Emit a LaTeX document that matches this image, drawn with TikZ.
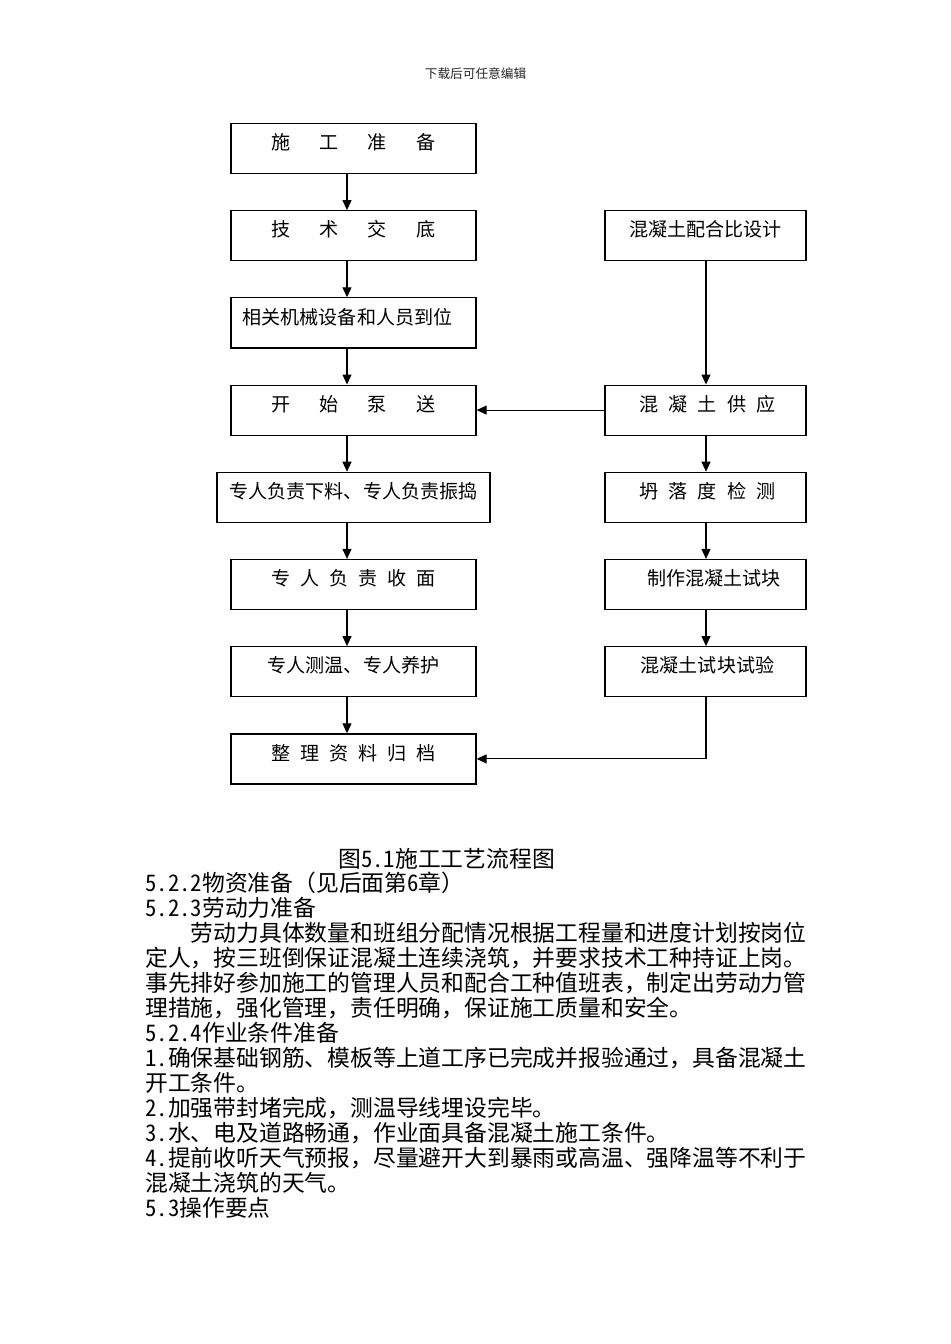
\documentclass[tikz,border=0pt]{standalone}
\usepackage{fontspec}
\usetikzlibrary{arrows.meta}
\newfontfamily\cjk{Noto Sans CJK SC}
\newfontfamily\cjkhw[RawFeature=+hwid]{Noto Sans CJK SC}
\newcommand\hw[1]{{\cjkhw #1}}
\newcommand\wgap{\hspace{21.75pt}}
\newcommand\ngap{\hspace{7.5pt}}
\tikzset{
  box/.style={draw, line width=0.9pt, inner sep=0pt, minimum height=37.5pt,
    text height=9pt, text depth=7.2pt, font=\cjk\fontsize{14.3pt}{16pt}\selectfont},
  lbox/.style={box, minimum width=183.75pt},
  wbox/.style={box, minimum width=204.75pt},
  rbox/.style={box, minimum width=150.75pt},
  arr/.style={line width=0.8pt, -{Triangle[length=7.5pt,width=6.75pt]}},
  body/.style={anchor=base west, inner sep=0pt, font=\cjk\fontsize{17.1pt}{20pt}\selectfont},
  hdr/.style={anchor=base, inner sep=0pt, text=black!85, font=\cjk\fontsize{9.5pt}{11pt}\selectfont}
}
\begin{document}
\begin{tikzpicture}[x=0.75pt,y=-0.75pt]
\useasboundingbox[fill=white] (0,0) rectangle (950,1344);
\node[hdr] (hd) at (475.5,78.8) {下载后可任意编辑};
% left column
\node[lbox] (b1) at (353.5,148.5) {施\wgap 工\wgap 准\wgap 备};
\node[lbox] (b2) at (353.5,235.7) {技\wgap 术\wgap 交\wgap 底};
\node[lbox] (b3) at (353.5,322.9) {相关机械设备和人员到位\hspace*{9pt}};
\node[lbox] (b4) at (353.5,410.1) {开\wgap 始\wgap 泵\wgap 送};
\node[wbox] (b5) at (353.5,497.3) {专人负责下料、专人负责振捣};
\node[lbox] (b6) at (353.5,584.5) {专\ngap 人\ngap 负\ngap 责\ngap 收\ngap 面};
\node[lbox] (b7) at (353.5,671.7) {专人测温、专人养护};
\node[lbox] (b8) at (353.5,758.9) {整\ngap 理\ngap 资\ngap 料\ngap 归\ngap 档};
% right column
\node[rbox] (r1) at (705.5,235.7) {混凝土配合比设计};
\node[rbox] (r4) at (705.5,410.1) {\hspace*{3pt}混\ngap 凝\ngap 土\ngap 供\ngap 应};
\node[rbox] (r5) at (705.5,497.3) {\hspace*{3pt}坍\ngap 落\ngap 度\ngap 检\ngap 测};
\node[rbox] (r6) at (705.5,584.5) {\hspace*{12.75pt}制作混凝土试块};
\node[rbox] (r7) at (705.5,671.7) {\hspace*{3pt}混凝土试块试验};
% connectors
\coordinate (lx) at (347,0);
\coordinate (rx) at (706,0);
\draw[arr] (b1.south -| lx) -- (b2.north -| lx);
\draw[arr] (b2.south -| lx) -- (b3.north -| lx);
\draw[arr] (b3.south -| lx) -- (b4.north -| lx);
\draw[arr] (b4.south -| lx) -- (b5.north -| lx);
\draw[arr] (b5.south -| lx) -- (b6.north -| lx);
\draw[arr] (b6.south -| lx) -- (b7.north -| lx);
\draw[arr] (b7.south -| lx) -- (b8.north -| lx);
\draw[arr] (r1.south -| rx) -- (r4.north -| rx);
\draw[arr] (r4.west) -- (b4.east);
\draw[arr] (r4.south -| rx) -- (r5.north -| rx);
\draw[arr] (r5.south -| rx) -- (r6.north -| rx);
\draw[arr] (r6.south -| rx) -- (r7.north -| rx);
\draw[arr] (r7.south -| rx) |- (b8.east);
% caption and body text
\node[body] (cap) at (338,867.0) {图\hw{5.1}施工工艺流程图};
\node[body] (t0) at (145,891.95) {\hw{5.2.2}物资准备（见后面第\hw{6}章）};
\node[body] (t1) at (145,916.9) {\hw{5.2.3}劳动力准备};
\node[body] (t2) at (190.6,941.85) {劳动力具体数量和班组分配情况根据工程量和进度计划按岗位};
\node[body] (t3) at (145,966.8) {定人，按三班倒保证混凝土连续浇筑，并要求技术工种持证上岗。};
\node[body] (t4) at (145,991.75) {事先排好参加施工的管理人员和配合工种值班表，制定出劳动力管};
\node[body] (t5) at (145,1016.7) {理措施，强化管理，责任明确，保证施工质量和安全。};
\node[body] (t6) at (145,1041.65) {\hw{5.2.4}作业条件准备};
\node[body] (t7) at (145,1066.6) {\hw{1.}确保基础钢筋、模板等上道工序已完成并报验通过，具备混凝土};
\node[body] (t8) at (145,1091.55) {开工条件。};
\node[body] (t9) at (145,1116.5) {\hw{2.}加强带封堵完成，测温导线埋设完毕。};
\node[body] (t10) at (145,1141.45) {\hw{3.}水、电及道路畅通，作业面具备混凝土施工条件。};
\node[body] (t11) at (145,1166.4) {\hw{4.}提前收听天气预报，尽量避开大到暴雨或高温、强降温等不利于};
\node[body] (t12) at (145,1191.35) {混凝土浇筑的天气。};
\node[body] (t13) at (145,1216.3) {\hw{5.3}操作要点};
\end{tikzpicture}
\end{document}
